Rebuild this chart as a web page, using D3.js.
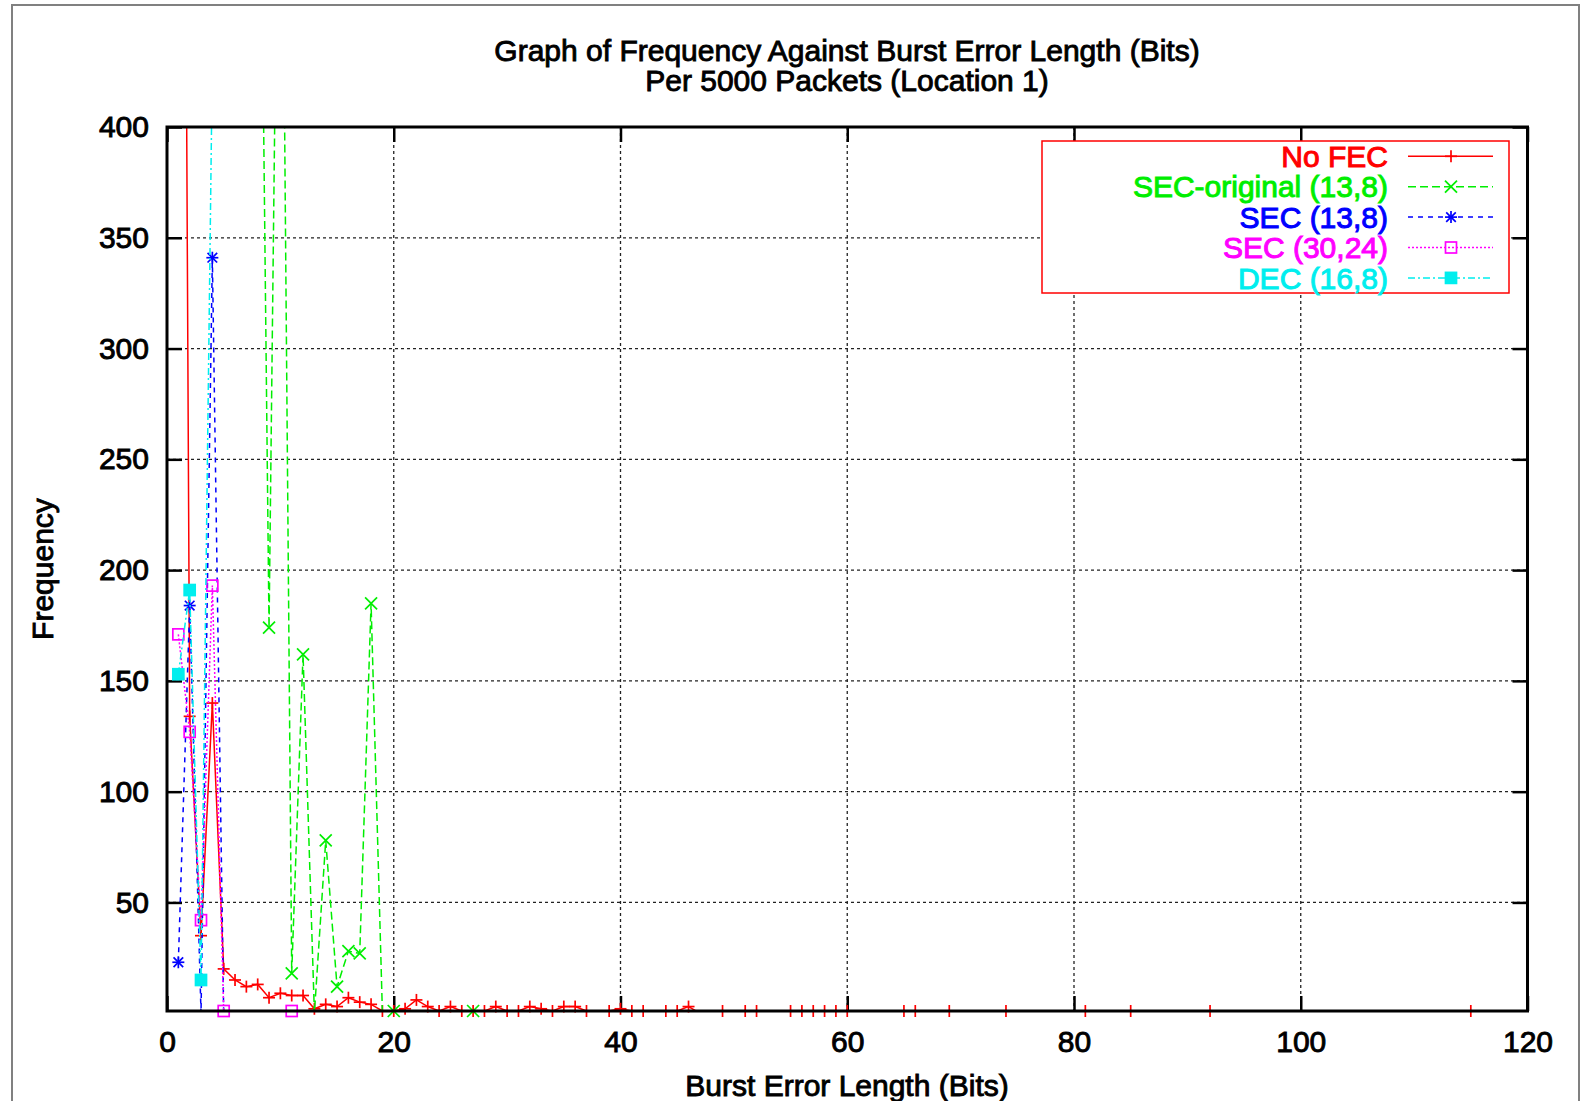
<!DOCTYPE html>
<html>
<head>
<meta charset="utf-8">
<script src="https://cdn.jsdelivr.net/npm/d3@7"></script>
<style>
  body { margin: 0; background: #fff; }
  text { font-family: "Liberation Sans", Arial, sans-serif; font-size: 30px; }
  .lbl, .tick text { stroke: #000; stroke-width: 0.9px; }
</style>
</head>
<body>
<script>
// ---------------------- DATA ----------------------

const xTicks = [0, 20, 40, 60, 80, 100, 120];
const yTicks = [50, 100, 150, 200, 250, 300, 350, 400];

// No FEC (every length up to 60, then the sparse tail)
const noFecLen = [
    1, 2, 3, 4, 5, 6, 7, 8, 9, 10,
    11, 12, 13, 14, 15, 16, 17, 18, 19, 20,
    21, 22, 23, 24, 25, 26, 27, 28, 29, 30,
    31, 32, 33, 34, 35, 36, 37, 38, 39, 40,
    41, 42, 43, 44, 45, 46, 47, 48, 49, 50,
    51, 52, 53, 54, 55, 56, 57, 58, 59, 60,
    61, 64, 65, 66, 67, 68, 69, 70, 73, 74, 75,
    80, 81, 82, 84, 85, 86, 91, 92, 93, 114, 115
];
const noFecFreq = [
    1150, 134, 35, 140, 20, 15, 12, 13, 7, 9,
    8, 8, 2, 4, 3, 7, 5, 4, 1, 1,
    2, 6, 3, 1, 3, 1, 1, 1, 3, 1,
    1, 3, 2, 1, 3, 3, 1, 0, 1, 2,
    1, 1, 0, 1, 1, 3, 0, 0, 1, 0,
    1, 1, 0, 0, 1, 1, 1, 1, 1, 1,
    0, 0, 1, 1, 0, 0, 1, 0, 0, 1, 0,
    0, 1, 0, 0, 1, 0, 0, 1, 0, 0, 1
];

// SEC-original (13,8)
const secOrigLen  = [8, 9, 10, 11, 12, 13, 14, 15, 16, 17, 18, 19, 20, 21, 26, 27, 28];
const secOrigFreq = [650, 174, 630, 18, 162, 0, 78, 12, 28, 27, 185, 0, 1, 0, 0, 1, 0];

// SEC (13,8)
const sec138Len  = [1, 2, 3, 4, 5];
const sec138Freq = [23, 184, 0, 341, 0];

// SEC (30,24)
const sec3024Len  = [1, 2, 3, 4, 5, 6, 10, 11, 12];
const sec3024Freq = [171, 127, 42, 193, 1, 0, 0, 1, 0];

// DEC (16,8)
const dec168Len  = [1, 2, 3, 4];
const dec168Freq = [153, 191, 15, 430];

const seriesNames = ["No FEC", "SEC-original (13,8)", "SEC (13,8)", "SEC (30,24)", "DEC (16,8)"];

// ---------------------- STYLE ----------------------

const W = 1580, H = 1101;
const plot = { left: 167, right: 1527.5, top: 127, bottom: 1011 };

const seriesStyle = [
    { color: "#ff0000", dash: null,        marker: "plus"   },
    { color: "#00ee00", dash: "8,4",       marker: "cross"  },
    { color: "#0000ff", dash: "5,5",       marker: "star"   },
    { color: "#ff00ff", dash: "2,2",       marker: "box"    },
    { color: "#00eeee", dash: "7,3,2,3",   marker: "filled" }
];

// ---------------------- HELPERS ----------------------

/**
 * Zip a length array and a frequency array into points
 */
function toPoints(len, freq) {
    return len.map((l, i) => ({ x: l, y: freq[i] }));
}

/**
 * Draw one point symbol in gnuplot style
 */
function drawMarker(g, type, cx, cy, color) {
    const s = 6;
    const m = g.append("g").attr("transform", `translate(${cx},${cy})`)
        .attr("stroke", color).attr("stroke-width", 1.7).attr("fill", "none");
    if (type === "plus" || type === "star") {
        m.append("line").attr("x1", -s).attr("x2", s).attr("y1", 0).attr("y2", 0);
        m.append("line").attr("x1", 0).attr("x2", 0).attr("y1", -s).attr("y2", s);
    }
    if (type === "cross" || type === "star") {
        const d = type === "star" ? s * 0.8 : s;
        m.append("line").attr("x1", -d).attr("x2", d).attr("y1", -d).attr("y2", d);
        m.append("line").attr("x1", -d).attr("x2", d).attr("y1", d).attr("y2", -d);
    }
    if (type === "box") {
        m.append("rect").attr("x", -5.5).attr("y", -5.5).attr("width", 11).attr("height", 11);
    }
    if (type === "filled") {
        m.append("rect").attr("x", -5.5).attr("y", -5.5).attr("width", 11).attr("height", 11)
            .attr("fill", color);
    }
}

// ---------------------- RENDER ----------------------

function renderChart() {
    const svg = d3.select("body").append("svg")
        .attr("width", W)
        .attr("height", H);

    // outer grey frame
    svg.append("rect")
        .attr("x", 12).attr("y", 5)
        .attr("width", W - 13).attr("height", H + 50)
        .attr("fill", "none").attr("stroke", "#808080").attr("stroke-width", 2);

    const x = d3.scaleLinear().domain([0, 120]).range([plot.left, plot.right]);
    const y = d3.scaleLinear().domain([1, 400]).range([plot.bottom, plot.top]);

    // grid
    const grid = svg.append("g").attr("stroke", "#222").attr("stroke-width", 1.3)
        .attr("stroke-dasharray", "3,3");
    grid.selectAll(".vgrid").data(xTicks.slice(1, -1)).enter().append("line")
        .attr("x1", d => x(d)).attr("x2", d => x(d))
        .attr("y1", plot.top).attr("y2", plot.bottom);
    grid.selectAll(".hgrid").data(yTicks.slice(0, -1)).enter().append("line")
        .attr("x1", plot.left).attr("x2", plot.right)
        .attr("y1", d => y(d)).attr("y2", d => y(d));

    // axes with inward ticks, mirrored on top and right
    const xAxis = svg.append("g").attr("transform", `translate(0,${plot.bottom})`)
        .call(d3.axisBottom(x).tickValues(xTicks).tickSizeInner(-15).tickSizeOuter(0).tickPadding(20));
    const yAxis = svg.append("g").attr("transform", `translate(${plot.left},0)`)
        .call(d3.axisLeft(y).tickValues(yTicks).tickSizeInner(-15).tickSizeOuter(0).tickPadding(18));
    const xTop = svg.append("g").attr("transform", `translate(0,${plot.top})`)
        .call(d3.axisTop(x).tickValues(xTicks).tickSizeInner(-15).tickSizeOuter(0).tickFormat(""));
    const yRight = svg.append("g").attr("transform", `translate(${plot.right},0)`)
        .call(d3.axisRight(y).tickValues(yTicks).tickSizeInner(-15).tickSizeOuter(0).tickFormat(""));

    [xAxis, yAxis, xTop, yRight].forEach(a => {
        a.select(".domain").remove();
        a.selectAll(".tick line").attr("stroke", "#000").attr("stroke-width", 2.5);
        a.selectAll(".tick text").attr("fill", "#000")
            .style("font-family", "'Liberation Sans', Arial, sans-serif").style("font-size", "30px");
    });

    // clip region for the data
    svg.append("clipPath").attr("id", "plot-clip").append("rect")
        .attr("x", plot.left).attr("y", plot.top)
        .attr("width", plot.right - plot.left).attr("height", plot.bottom - plot.top);

    const allSeries = [
        toPoints(noFecLen, noFecFreq),
        toPoints(secOrigLen, secOrigFreq),
        toPoints(sec138Len, sec138Freq),
        toPoints(sec3024Len, sec3024Freq),
        toPoints(dec168Len, dec168Freq)
    ];

    const line = d3.line().x(d => x(d.x)).y(d => y(d.y));
    const dataG = svg.append("g");

    allSeries.forEach((pts, i) => {
        const st = seriesStyle[i];
        dataG.append("path")
            .datum(pts)
            .attr("clip-path", "url(#plot-clip)")
            .attr("d", line)
            .attr("fill", "none")
            .attr("stroke", st.color)
            .attr("stroke-width", 1.5)
            .attr("stroke-dasharray", st.dash);

        // only points inside the y range get a symbol
        pts.filter(d => d.y >= 1 && d.y <= 400)
            .forEach(d => drawMarker(dataG, st.marker, x(d.x), y(d.y), st.color));
    });

    // border
    svg.append("rect")
        .attr("x", plot.left).attr("y", plot.top)
        .attr("width", plot.right - plot.left).attr("height", plot.bottom - plot.top)
        .attr("fill", "none").attr("stroke", "#000").attr("stroke-width", 3);

    // legend (opaque key)
    const key = svg.append("g");
    key.append("rect")
        .attr("x", 1042).attr("y", 141).attr("width", 467).attr("height", 152)
        .attr("fill", "#fff").attr("stroke", "#ff0000").attr("stroke-width", 1.5);
    seriesNames.forEach((name, i) => {
        const st = seriesStyle[i];
        const cy = 156.3 + i * 30.4;
        key.append("text")
            .attr("x", 1388).attr("y", cy + 10.7)
            .attr("text-anchor", "end")
            .attr("fill", st.color)
            .attr("stroke", st.color).attr("stroke-width", 1)
            .text(name);
        key.append("line")
            .attr("x1", 1408).attr("x2", 1493).attr("y1", cy).attr("y2", cy)
            .attr("stroke", st.color).attr("stroke-width", 1.5)
            .attr("stroke-dasharray", st.dash);
        drawMarker(key, st.marker, 1451, cy, st.color);
    });

    // titles
    const title = svg.append("g").attr("text-anchor", "middle").attr("fill", "#000");
    title.append("text").attr("class", "lbl").attr("x", 847).attr("y", 61)
        .text("Graph of Frequency Against Burst Error Length (Bits)");
    title.append("text").attr("class", "lbl").attr("x", 847).attr("y", 91)
        .text("Per 5000 Packets (Location 1)");

    svg.append("text")
        .attr("class", "lbl")
        .attr("x", 847).attr("y", 1096)
        .attr("text-anchor", "middle")
        .text("Burst Error Length (Bits)");

    svg.append("text")
        .attr("class", "lbl")
        .attr("transform", "translate(53,569) rotate(-90)")
        .attr("text-anchor", "middle")
        .text("Frequency");
}

// ---------------------- INITIALIZE ----------------------

renderChart();
</script>
</body>
</html>
